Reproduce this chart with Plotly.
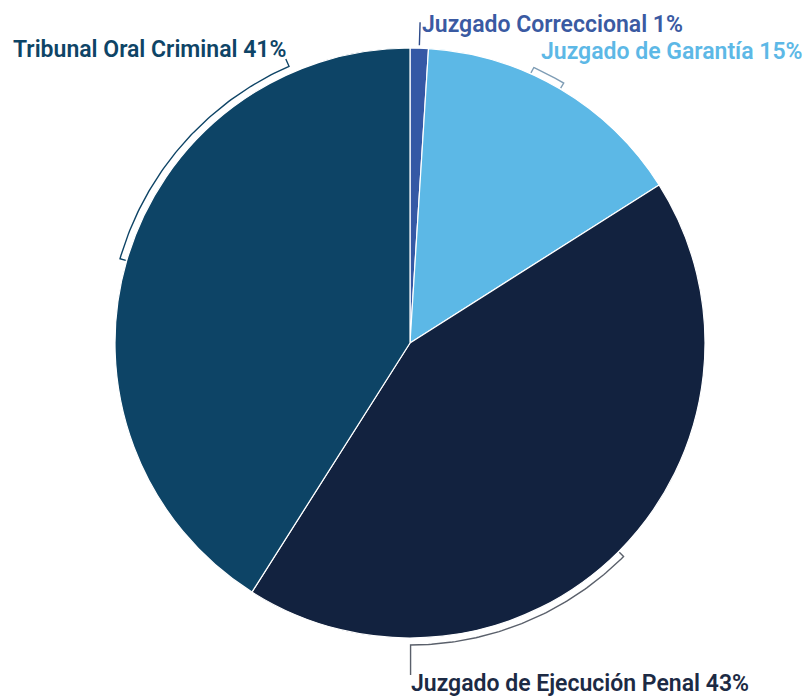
import numpy as np
import plotly.graph_objects as go

labels = ["Juzgado Correccional", "Juzgado de Garantía", "Juzgado de Ejecución Penal", "Tribunal Oral Criminal"]
values = [1, 15, 43, 41]
slice_colors = ["#3558a5", "#5cb8e6", "#12223f", "#0d4466"]
label_colors = ["#3a5aa2", "#5db8e6", "#1c2a44", "#0e4466"]
bracket_colors = ["#2d4a8a", "#7f9db5", "#5a606b", "#0e4466"]

# bracket span as fraction of each slice (None = single radial tick)
bracket_frac = [None, (0.38, 0.5), (0.5, 0.79), (0.5, 0.84)]
# label anchor positions (pixels: left x, middle y)
label_pos = [(420, 24), (539, 51), (409, 683), (11, 49)]

W, H = 803, 698
cx, cy, R = 410, 343, 295
Rb = R + 7
tick = 6

fig = go.Figure()

fig.add_trace(go.Pie(
    labels=labels, values=values, sort=False, direction="clockwise", rotation=0,
    marker=dict(colors=slice_colors, line=dict(color="white", width=1.2)),
    textinfo="none", hoverinfo="label+percent",
    domain=dict(x=[(cx - R) / W, (cx + R) / W], y=[(H - cy - R) / H, (H - cy + R) / H]),
))

def pt(theta_deg, r):
    t = np.radians(theta_deg)
    return cx + r * np.sin(t), cy - r * np.cos(t)

vals = np.array(values, dtype=float)
cum = np.concatenate([[0], np.cumsum(vals)]) / vals.sum() * 360.0

for i, lab in enumerate(labels):
    a0, a1 = cum[i], cum[i + 1]
    col = bracket_colors[i]
    if bracket_frac[i] is None:
        mid = (a0 + a1) / 2
        x0, y0 = pt(mid, R + 3)
        x1, y1 = pt(mid, R + 26)
        xs, ys = [x0, x1], [y0, y1]
    else:
        f0, f1 = bracket_frac[i]
        s, e = a0 + f0 * (a1 - a0), a0 + f1 * (a1 - a0)
        th = np.linspace(s, e, 80)
        ax, ay = pt(th, Rb)
        sx, sy = pt(s, Rb - tick)
        ex, ey = pt(e, Rb - tick)
        xs = [sx] + list(ax)
        ys = [sy] + list(ay)
        if i == 2:  # leader down to label
            xs += [ax[-1]]
            ys += [label_pos[i][1] - 8]
        elif i == 3:  # outward to label
            ox, oy = pt(e, Rb + 8)
            xs += [ox]
            ys += [oy]
        else:
            xs += [ex]
            ys += [ey]
    fig.add_trace(go.Scatter(x=xs, y=ys, mode="lines", line=dict(color=col, width=1.4),
                             hoverinfo="skip", showlegend=False))
    fig.add_annotation(x=label_pos[i][0], y=label_pos[i][1], xref="x", yref="y",
                       text=f"{lab} {values[i]}%", showarrow=False,
                       xanchor="left", yanchor="middle",
                       font=dict(family="Roboto", size=23, color=label_colors[i], weight=600))

fig.update_layout(
    width=W, height=H, margin=dict(l=0, r=0, t=0, b=0),
    paper_bgcolor="white", plot_bgcolor="white", showlegend=False,
    xaxis=dict(range=[0, W], visible=False, fixedrange=True, domain=[0, 1]),
    yaxis=dict(range=[H, 0], visible=False, fixedrange=True, domain=[0, 1]),
)

fig.write_html("out.html", config={"displayModeBar": False},
               post_script="document.body.style.margin='0';document.body.style.padding='0';document.body.style.overflow='hidden';")
